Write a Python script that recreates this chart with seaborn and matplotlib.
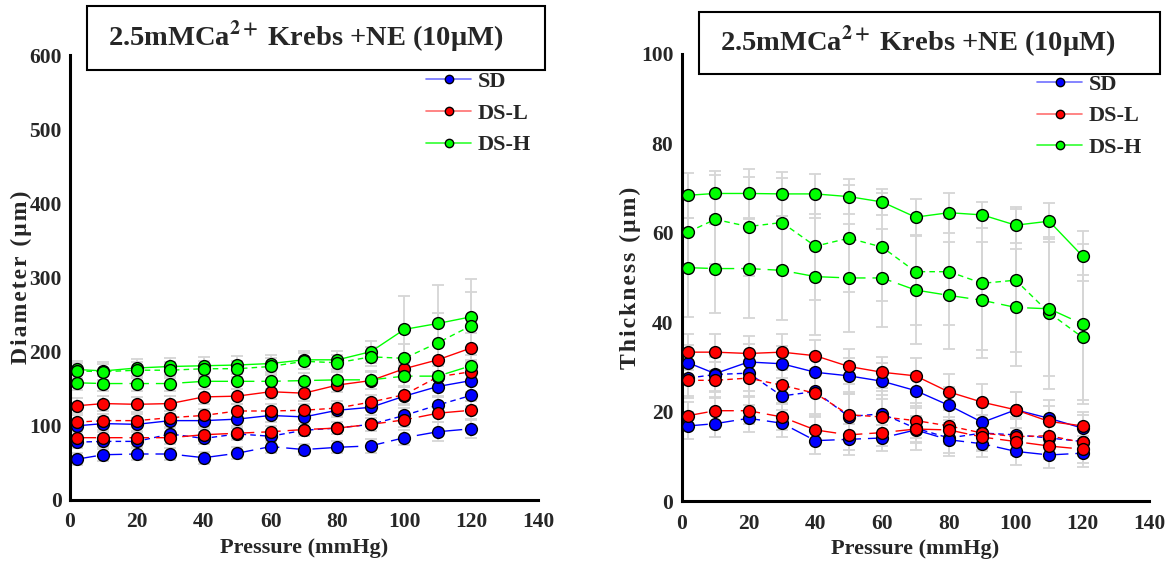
import pandas as pd
import matplotlib
matplotlib.use("Agg")
import matplotlib.pyplot as plt
import matplotlib.patches as patches
from matplotlib.lines import Line2D
import seaborn as sns

pressure = [2, 10, 20, 30, 40, 50, 60, 70, 80, 90, 100, 110, 120]
groups = ['SD', 'DS-L', 'DS-H']

# diameter (um), three traces per group
dia_sd_solid = [100, 103, 102, 107, 107, 109, 114, 112, 121, 125, 140, 153, 161]
dia_sd_dash = [78, 79, 79, 89, 83, 89, 86, 94, 97, 102, 114, 128, 141]
dia_sd_long = [55, 61, 62, 62, 57, 63, 72, 68, 71, 73, 84, 92, 96]
dia_dsl_solid = [127, 130, 129, 130, 139, 140, 146, 144, 155, 161, 177, 189, 205]
dia_dsl_dash = [105, 107, 107, 111, 114, 120, 120, 121, 124, 132, 142, 166, 173]
dia_dsl_long = [84, 84, 84, 84, 88, 90, 92, 95, 97, 102, 108, 117, 121]
dia_dsh_solid = [176, 174, 178, 180, 181, 182, 184, 189, 189, 200, 230, 238, 247]
dia_dsh_dash = [174, 173, 175, 175, 177, 177, 180, 187, 185, 193, 191, 212, 235]
dia_dsh_long = [158, 157, 157, 157, 160, 160, 160, 161, 162, 162, 167, 167, 181]

dia_sd_solid_err = [9, 9, 9, 9, 9, 9, 9, 9, 9, 10, 12, 14, 15]
dia_sd_dash_err = [8, 8, 8, 8, 8, 8, 8, 8, 8, 9, 10, 12, 14]
dia_sd_long_err = [8, 8, 8, 8, 8, 8, 8, 8, 8, 9, 10, 13, 13]
dia_dsl_solid_err = [10, 10, 10, 10, 10, 10, 10, 10, 10, 12, 15, 18, 20]
dia_dsl_dash_err = [9, 9, 9, 9, 9, 9, 9, 9, 9, 10, 12, 14, 15]
dia_dsl_long_err = [8, 8, 8, 8, 8, 8, 8, 8, 8, 9, 10, 12, 13]
dia_dsh_solid_err = [12, 12, 12, 12, 12, 12, 12, 12, 12, 15, 45, 52, 51]
dia_dsh_dash_err = [11, 11, 11, 11, 11, 11, 11, 11, 11, 13, 20, 40, 46]
dia_dsh_long_err = [10, 10, 10, 10, 10, 10, 10, 10, 10, 12, 15, 20, 25]

# thickness (um)
thk_sd_solid = [30.9, 28.5, 31.1, 30.7, 28.8, 28.0, 26.8, 24.7, 21.4, 17.6, 20.4, 18.5, 16.3]
thk_sd_dash = [27.5, 28.3, 28.6, 23.5, 24.5, 18.9, 19.5, 16.3, 14.1, 15.2, 14.8, 14.1, 13.3]
thk_sd_long = [16.8, 17.3, 18.5, 17.4, 13.5, 13.8, 14.1, 15.9, 13.7, 12.8, 11.1, 10.3, 10.7]
thk_dsl_solid = [33.3, 33.3, 33.0, 33.3, 32.5, 30.1, 28.8, 28.0, 24.4, 22.1, 20.4, 17.8, 16.8]
thk_dsl_dash = [27.0, 27.0, 27.5, 25.9, 24.1, 19.3, 18.8, 18.0, 16.8, 15.2, 14.4, 14.6, 13.1]
thk_dsl_long = [19.1, 20.2, 20.2, 18.8, 15.9, 14.8, 15.3, 16.1, 15.9, 14.3, 13.3, 12.3, 11.6]
thk_dsh_solid = [68.4, 68.8, 68.8, 68.7, 68.7, 68.1, 66.9, 63.5, 64.5, 64.0, 61.7, 62.6, 54.8]
thk_dsh_dash = [60.2, 63.0, 61.4, 62.3, 57.0, 58.8, 56.8, 51.3, 51.3, 48.7, 49.4, 42.1, 36.6]
thk_dsh_long = [52.2, 52.0, 52.0, 51.6, 50.2, 49.9, 49.9, 47.2, 46.0, 44.9, 43.3, 43.0, 39.6]

thk_sd_solid_err = [4, 4, 4, 4, 4, 4, 4, 4, 4, 4, 4, 4, 3]
thk_sd_dash_err = [4, 4, 4, 4, 5, 5, 5, 5, 4, 4, 4, 4, 3]
thk_sd_long_err = [3, 3, 3, 3, 3, 3.5, 3, 3, 3, 3, 3, 3, 3]
thk_dsl_solid_err = [4, 4, 4, 4, 3.5, 4, 3.5, 4, 4, 4, 4, 3.5, 3]
thk_dsl_dash_err = [4, 4, 4, 4, 5, 5, 5, 4, 4, 4, 4, 4, 3]
thk_dsl_long_err = [3, 3, 3, 3, 3, 3.5, 3, 3, 3, 3, 3, 3, 3]
thk_dsh_solid_err = [5, 5, 5.5, 5, 4.5, 4, 3, 4, 4.5, 3, 4, 4, 5.5]
thk_dsh_dash_err = [8, 10, 11, 10, 12, 12, 12, 12, 12, 15, 16, 17, 14]
thk_dsh_long_err = [11, 10, 11, 11, 13, 12, 11, 12, 12, 13, 13, 15, 18]

dia_traces = {
    ('SD', 'solid'): (dia_sd_solid, dia_sd_solid_err),
    ('SD', 'dash'): (dia_sd_dash, dia_sd_dash_err),
    ('SD', 'long'): (dia_sd_long, dia_sd_long_err),
    ('DS-L', 'solid'): (dia_dsl_solid, dia_dsl_solid_err),
    ('DS-L', 'dash'): (dia_dsl_dash, dia_dsl_dash_err),
    ('DS-L', 'long'): (dia_dsl_long, dia_dsl_long_err),
    ('DS-H', 'solid'): (dia_dsh_solid, dia_dsh_solid_err),
    ('DS-H', 'dash'): (dia_dsh_dash, dia_dsh_dash_err),
    ('DS-H', 'long'): (dia_dsh_long, dia_dsh_long_err),
}
thk_traces = {
    ('SD', 'solid'): (thk_sd_solid, thk_sd_solid_err),
    ('SD', 'dash'): (thk_sd_dash, thk_sd_dash_err),
    ('SD', 'long'): (thk_sd_long, thk_sd_long_err),
    ('DS-L', 'solid'): (thk_dsl_solid, thk_dsl_solid_err),
    ('DS-L', 'dash'): (thk_dsl_dash, thk_dsl_dash_err),
    ('DS-L', 'long'): (thk_dsl_long, thk_dsl_long_err),
    ('DS-H', 'solid'): (thk_dsh_solid, thk_dsh_solid_err),
    ('DS-H', 'dash'): (thk_dsh_dash, thk_dsh_dash_err),
    ('DS-H', 'long'): (thk_dsh_long, thk_dsh_long_err),
}

palette = {'SD': '#0000ff', 'DS-L': '#ff0000', 'DS-H': '#00ff00'}
legend_line = {'SD': '#6f6fff', 'DS-L': '#ff7070', 'DS-H': '#30ff30'}
dash_map = {'solid': '', 'dash': (4, 3), 'long': (14, 5)}
marker_map = {'solid': 'o', 'dash': 'o', 'long': 'o'}

sns.set_style('white')
plt.rcParams['font.family'] = ['Liberation Serif', 'DejaVu Serif']
plt.rcParams['font.weight'] = 'bold'
plt.rcParams['mathtext.fontset'] = 'stix'


def to_frame(traces):
    rows = []
    for (g, t), (vals, errs) in traces.items():
        for p, v in zip(pressure, vals):
            rows.append({'pressure': p, 'value': v, 'group': g, 'trace': t})
    return pd.DataFrame(rows)


def spaced(s):
    return '\u200a'.join(s)


def draw(ax, traces, ymax, ystep, ylabel, label_x):
    for (g, t), (vals, errs) in traces.items():
        ax.errorbar(pressure, vals, yerr=errs, fmt='none', ecolor='#d6d6d6',
                    elinewidth=1.3, capsize=4, capthick=1.3, zorder=1)
    df = to_frame(traces)
    sns.lineplot(data=df, x='pressure', y='value', hue='group', style='trace',
                 palette=palette, dashes=dash_map, markers=marker_map,
                 estimator=None, sort=False, legend=False, ax=ax,
                 linewidth=1, markersize=8.5, markeredgecolor='black',
                 markeredgewidth=1, zorder=3)
    ax.set_xlim(0, 140)
    ax.set_ylim(0, ymax)
    ax.set_xticks(range(0, 141, 20))
    ax.set_yticks(range(0, ymax + 1, ystep))
    sns.despine(ax=ax)
    for s in ['left', 'bottom']:
        ax.spines[s].set_linewidth(2.2)
        ax.spines[s].set_color('black')
    ax.tick_params(direction='in', length=5, width=2, labelsize=15.5)
    ax.tick_params(axis='x', pad=9)
    ax.tick_params(axis='y', pad=6)
    for lab in ax.get_xticklabels() + ax.get_yticklabels():
        lab.set_fontweight('bold')
    ax.set_xlabel('Pressure (mmHg)', fontsize=16, fontweight='bold', labelpad=4)
    ax.set_ylabel(spaced(ylabel), fontsize=17, fontweight='bold')
    ax.yaxis.set_label_coords(label_x, 0.5)


fig = plt.figure(figsize=(11.73, 5.69), dpi=100)
ax1 = fig.add_axes([0.0597, 0.1213, 0.399, 0.782])
ax2 = fig.add_axes([0.5812, 0.1195, 0.3986, 0.7856])

draw(ax1, dia_traces, 600, 100, 'Diameter (μm)', -0.082)
draw(ax2, thk_traces, 100, 20, 'Thickness (μm)', -0.088)

title = '2.5mMCa$^{\\mathbf{2+}}$\u2009Krebs +NE (10μM)'
for (bx, by, bw, bh), (tx, ty) in [((0.0742, 0.877, 0.3905, 0.1125), (0.092, 0.935)),
                                    ((0.5959, 0.870, 0.393, 0.109), (0.6138, 0.926))]:
    fig.patches.append(patches.Rectangle((bx, by), bw, bh, transform=fig.transFigure,
                                         fill=False, edgecolor='black', linewidth=1.5))
    fig.text(tx, ty, title, fontsize=20.5, fontweight='bold', va='center', ha='left')

handles = [Line2D([], [], color=legend_line[g], lw=1.2, marker='o', markersize=6,
                  markerfacecolor=palette[g], markeredgecolor='black') for g in groups]
for lx, ly in [(0.354, 0.894), (0.875, 0.889)]:
    fig.legend(handles, groups, loc='upper left', bbox_to_anchor=(lx, ly),
               frameon=False, handlelength=2.0, handletextpad=0.3,
               labelspacing=0.5, borderpad=0, prop={'weight': 'bold', 'size': 16})

fig.savefig('out.png', dpi=100)
